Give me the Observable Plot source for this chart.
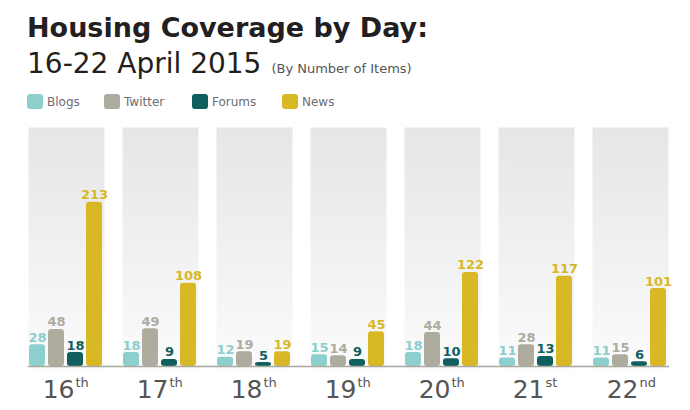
<!DOCTYPE html>
<html>
<head>
<meta charset="utf-8">
<script src="https://cdn.jsdelivr.net/npm/d3@7"></script>
<script src="https://cdn.jsdelivr.net/npm/@observablehq/plot@0.6"></script>
<style>
  body { margin: 0; background: #fff; font-family: "DejaVu Sans", Verdana, sans-serif; }
  #head { position: relative; width: 690px; height: 120px; }
  .t { position: absolute; left: 27px; line-height: 1; white-space: nowrap; color: #231f20; }
  .leg { position: absolute; top: 94px; height: 15px; display: flex; align-items: center; font-size: 12px; color: #6d6e71; line-height: 1; }
  .sw { width: 16px; height: 15px; border-radius: 3px; margin-right: 4px; }
</style>
</head>
<body>
<svg width="0" height="0" style="position:absolute">
  <defs>
    <linearGradient id="panelGrad" x1="0" y1="0" x2="0" y2="1">
      <stop offset="0" stop-color="#e5e6e8"/>
      <stop offset="1" stop-color="#fbfbfc"/>
    </linearGradient>
  </defs>
</svg>
<div id="head">
  <div class="t" style="top:14px;font-size:27px;font-weight:bold;">Housing Coverage by Day:</div>
  <div class="t" style="top:50px;font-size:28px;">16-22 April 2015<span style="font-size:13px;color:#555;margin-left:10px;">(By Number of Items)</span></div>
</div>
<div id="chart"></div>
<script>
const days = [16, 17, 18, 19, 20, 21, 22];
const suffixes = ["th", "th", "th", "th", "th", "st", "nd"];
const series = ["Blogs", "Twitter", "Forums", "News"];
const colors = ["#8ccfcc", "#aeab9f", "#0e5f5e", "#d9b826"];
const blogs   = [28, 18, 12, 15, 18, 11, 11];
const twitter = [48, 49, 19, 14, 44, 28, 15];
const forums  = [18, 9, 5, 9, 10, 13, 6];
const news    = [213, 108, 19, 45, 122, 117, 101];
const legendX = [27, 104, 192, 282];

const valuesBySeries = [blogs, twitter, forums, news];
const rows = [];
days.forEach((d, i) => series.forEach((s, j) => rows.push({day: d, series: s, value: valuesBySeries[j][i]})));
const dayRows = days.map((d, i) => ({day: d, suffix: suffixes[i]}));

// legend
const head = document.getElementById("head");
series.forEach((s, j) => {
  const item = document.createElement("div");
  item.className = "leg";
  item.style.left = legendX[j] + "px";
  item.innerHTML = `<div class="sw" style="background:${colors[j]}"></div><span>${s}</span>`;
  head.appendChild(item);
});

const chart = Plot.plot({
  width: 690,
  height: 290,
  marginTop: 7,
  marginBottom: 41,
  marginLeft: 27,
  marginRight: 21,
  style: {fontFamily: "DejaVu Sans, Verdana, sans-serif", background: "transparent"},
  fx: {domain: days, paddingInner: 0.194, paddingOuter: 0, axis: null},
  x: {domain: series, paddingInner: 0.15, paddingOuter: 0, axis: null},
  y: {domain: [-4, 310], axis: null},
  color: {domain: series, range: colors},
  marks: [
    Plot.frame({fill: "url(#panelGrad)", stroke: null}),
    Plot.barY(rows, {fx: "day", x: "series", y: "value", fill: "series", rx: 3}),
    Plot.frame({facet: "super", anchor: "bottom", insetBottom: 3, stroke: "#a9a89f", strokeWidth: 1.5}),
    Plot.text(rows, {fx: "day", x: "series", y: "value", text: d => String(d.value), fill: "series",
      fontWeight: "bold", fontSize: 13, lineAnchor: "bottom", dy: -3}),
    Plot.text(dayRows, {fx: "day", text: d => String(d.day), frameAnchor: "bottom", textAnchor: "end",
      lineAnchor: "bottom", dx: 8, dy: 28, fontSize: 25, fill: "#555"}),
    Plot.text(dayRows, {fx: "day", text: "suffix", frameAnchor: "bottom", textAnchor: "start",
      lineAnchor: "bottom", dx: 9, dy: 17, fontSize: 13, fill: "#555"})
  ]
});
document.getElementById("chart").appendChild(chart);
</script>
</body>
</html>
